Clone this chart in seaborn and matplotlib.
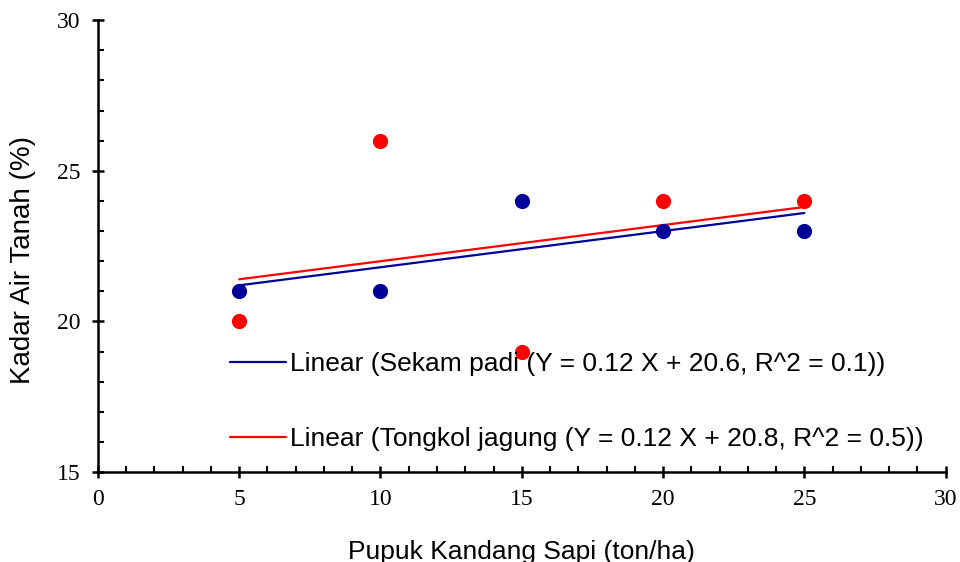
import numpy as np
import pandas as pd
import seaborn as sns
import matplotlib.pyplot as plt
from matplotlib.ticker import MultipleLocator

# data
pupuk = [5, 10, 15, 20, 25]
sekam_padi = [21, 21, 24, 23, 23]
tongkol_jagung = [20, 26, 19, 24, 24]

df = pd.DataFrame({"Pupuk": pupuk, "Sekam": sekam_padi, "Tongkol": tongkol_jagung})

sns.set_theme(style="white")
plt.rcParams["font.family"] = ["Liberation Sans", "DejaVu Sans"]

fig, ax = plt.subplots(figsize=(9.6, 5.62), dpi=100)
fig.subplots_adjust(left=0.102, right=0.985, top=0.964, bottom=0.160)

navy = "#000099"
red = "#ff0000"

sns.regplot(data=df, x="Pupuk", y="Sekam", ci=None, ax=ax, color=navy,
            scatter_kws={"s": 120, "zorder": 3, "linewidths": 0, "alpha": 1},
            line_kws={"lw": 1.6, "label": "Linear (Sekam padi (Y = 0.12 X + 20.6, R^2 = 0.1))"})
sns.regplot(data=df, x="Pupuk", y="Tongkol", ci=None, ax=ax, color=red,
            scatter_kws={"s": 120, "zorder": 3, "linewidths": 0, "alpha": 1},
            line_kws={"lw": 1.6, "label": "Linear (Tongkol jagung (Y = 0.12 X + 20.8, R^2 = 0.5))"})

ax.set_xlim(0, 30)
ax.set_ylim(15, 30)
ax.xaxis.set_major_locator(MultipleLocator(5))
ax.xaxis.set_minor_locator(MultipleLocator(1))
ax.yaxis.set_major_locator(MultipleLocator(5))
ax.yaxis.set_minor_locator(MultipleLocator(1))

sns.despine(ax=ax)
for s in ["left", "bottom"]:
    ax.spines[s].set_color("black")
    ax.spines[s].set_linewidth(1.8)

ax.tick_params(which="major", direction="inout", length=9, width=1.8, color="black",
               labelsize=17, labelcolor="black", labelfontfamily="Liberation Serif")
ax.tick_params(which="minor", direction="in", length=4, width=1.5, color="black")
ax.tick_params(axis="x", which="both", bottom=True)
ax.tick_params(axis="y", which="both", left=True)
ax.tick_params(axis="x", which="major", pad=8)
ax.tick_params(axis="y", which="major", pad=8)

ax.set_xlabel("Pupuk Kandang Sapi (ton/ha)", fontsize=19, color="black")
ax.set_ylabel("Kadar Air Tanah (%)", fontsize=20, color="black")
ax.xaxis.set_label_coords(0.5, -0.150)
ax.yaxis.set_label_coords(-0.073, 0.469)

handles, labels = ax.get_legend_handles_labels()
lines = [h for h, l in zip(handles, labels) if l.startswith("Linear")]
ax.legend(lines, [l.get_label() for l in lines], loc="upper left",
          bbox_to_anchor=(0.156, 0.266), frameon=False, fontsize=19,
          handlelength=2.1, handletextpad=0.15, labelspacing=1.93,
          borderaxespad=0, borderpad=0, labelcolor="black")

fig.savefig("out.png", dpi=100)
